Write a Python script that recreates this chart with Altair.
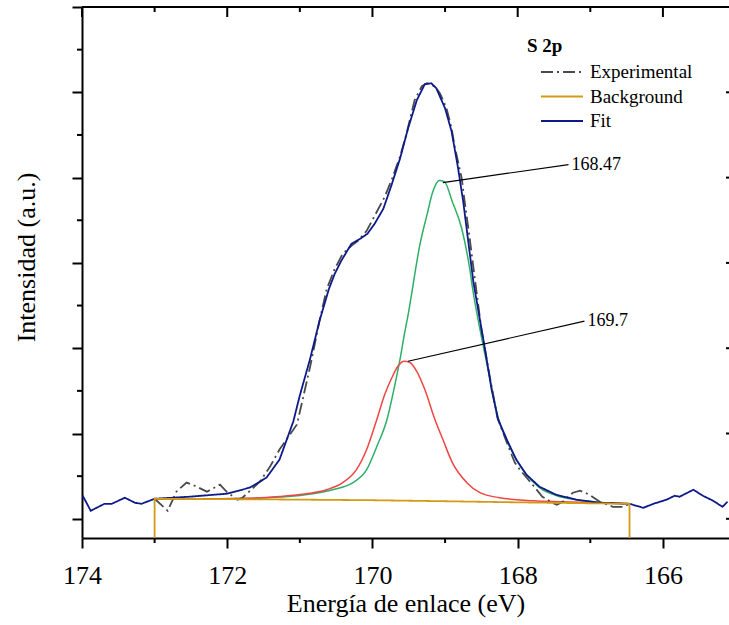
import altair as alt
import pandas as pd

# Plot-area size in pixels
W, H = 647, 531

# Binding energy (eV) and intensity (counts) of each series
fit_ev = [173.99, 173.88, 173.69, 173.59, 173.41, 173.27, 173.18, 173.00, 172.52, 172.01,
          171.69, 171.46, 171.28, 171.09, 171.00, 170.86, 170.73, 170.60, 170.52, 170.43,
          170.29, 170.17, 170.07, 169.97, 169.85, 169.74, 169.62, 169.51, 169.39, 169.28,
          169.19, 169.12, 169.00, 168.91, 168.82, 168.75, 168.68, 168.61, 168.45, 168.36,
          168.27, 168.15, 168.02, 167.88, 167.70, 167.47, 167.19, 166.87, 166.46, 166.27,
          166.13, 165.95, 165.84, 165.77, 165.58, 165.45, 165.31, 165.18, 165.11]
fit_counts = [1271, 1094, 1176, 1176, 1247, 1188, 1176, 1235, 1259, 1294,
              1365, 1482, 1694, 2141, 2447, 2871, 3318, 3694, 3871, 4024,
              4224, 4282, 4341, 4459, 4635, 4906, 5224, 5576, 5906, 6094,
              6106, 6047, 5812, 5541, 5106, 4718, 4247, 3776, 2988, 2518,
              2165, 1929, 1694, 1518, 1376, 1282, 1224, 1188, 1176, 1129,
              1176, 1224, 1270, 1259, 1341, 1270, 1212, 1141, 1200]

exp_ev = [173.00, 172.82, 172.70, 172.56, 172.45, 172.28, 172.10, 172.01, 171.86, 171.79,
          171.55, 171.41, 171.28, 171.04, 170.86, 170.73, 170.63, 170.52, 170.41, 170.29,
          170.20, 170.08, 169.94, 169.83, 169.73, 169.62, 169.53, 169.42, 169.32, 169.25,
          169.14, 169.07, 168.98, 168.91, 168.87, 168.77, 168.73, 168.66, 168.59, 168.50,
          168.39, 168.28, 168.15, 168.04, 167.97, 167.83, 167.66, 167.52, 167.46, 167.38,
          167.24, 167.14, 167.01, 166.87, 166.69, 166.55, 166.46]
exp_counts = [1235, 1094, 1318, 1424, 1388, 1318, 1400, 1318, 1224, 1247,
              1435, 1612, 1812, 2106, 2776, 3318, 3694, 3929, 4106, 4200,
              4259, 4376, 4600, 4776, 4988, 5247, 5518, 5906, 6071, 6106,
              6071, 5988, 5812, 5576, 5376, 4988, 4718, 4282, 3812, 3224,
              2694, 2188, 1894, 1659, 1576, 1435, 1259, 1188, 1165, 1200,
              1306, 1329, 1282, 1200, 1141, 1141, 1176]

bg_ev = [173.00, 173.00, 171.50, 170.00, 169.00, 168.00, 167.00, 166.46, 166.46]
bg_counts = [0, 1235, 1228, 1218, 1206, 1193, 1182, 1176, 0]

# Component at 168.47 eV (green)
comp1_ev = [173.00, 172.38, 171.73, 171.28, 170.82, 170.55, 170.27, 170.08, 169.94, 169.80,
            169.69, 169.62, 169.56, 169.50, 169.45, 169.35, 169.25, 169.17, 169.08, 169.01,
            168.90, 168.77, 168.66, 168.62, 168.52, 168.38, 168.27, 168.15, 168.01, 167.87,
            167.70, 167.46, 167.19, 166.87, 166.46]
comp1_counts = [1235, 1235, 1239, 1255, 1294, 1341, 1424, 1576, 1847, 2165,
                2576, 2871, 3165, 3435, 3694, 4200, 4560, 4830, 4965, 4953,
                4718, 4400, 3929, 3694, 3224, 2635, 2188, 1918, 1682, 1506,
                1365, 1271, 1224, 1194, 1176]

# Component at 169.7 eV (red)
comp2_ev = [173.00, 172.38, 171.73, 171.28, 170.91, 170.63, 170.41, 170.22, 170.08, 169.94,
            169.83, 169.73, 169.65, 169.56, 169.49, 169.39, 169.28, 169.14, 169.03, 168.90,
            168.70, 168.52, 168.25, 167.79, 167.42, 166.87, 166.46]
comp2_counts = [1235, 1235, 1241, 1262, 1294, 1341, 1424, 1576, 1812, 2165,
                2459, 2659, 2788, 2847, 2835, 2729, 2518, 2165, 1929, 1659,
                1424, 1306, 1247, 1212, 1200, 1188, 1176]

# Peak annotations: leader line from the component maximum to the label
ann_text = ["168.47", "169.7"]
ann_from_ev = [169.03, 169.51]
ann_from_counts = [4941, 2847]
ann_to_ev = [167.30, 167.08]
ann_to_counts = [5153, 3318]

legend_title = "S 2p"
series_names = ["Experimental", "Background", "Fit"]
series_colors = ["#4a4a4a", "#d39a14", "#0e1a8a"]
series_dash = [[12, 4, 2, 4], [1, 0], [1, 0]]

x_major = [174, 172, 170, 168, 166]
x_minor = [173, 171, 169, 167]
y_major = [1000, 2000, 3000, 4000, 5000, 6000, 7000]
y_minor = [1500, 2500, 3500, 4500, 5500, 6500]


def frame(ev, counts, name):
    return pd.DataFrame({"ev": ev, "counts": counts, "series": name,
                         "i": list(range(len(ev)))})


xs = alt.Scale(domain=[165.09, 174], reverse=True, nice=False, zero=False)
ys = alt.Scale(domain=[775, 7000], nice=False, zero=False)

x_axis = alt.Axis(values=x_major, format="d", title="Energía de enlace (eV)",
                  labelFont="Liberation Sans Narrow", labelFontSize=26, labelColor="black",
                  labelPadding=14, labelFlush=False, tickSize=10, tickWidth=2,
                  tickColor="black", domainColor="black", domainWidth=2, grid=False,
                  titleFont="Liberation Serif", titleFontSize=26, titleFontWeight="normal",
                  titleColor="black", titleBaseline="alphabetic", titleY=73.5)
y_axis = alt.Axis(values=y_major, labels=False, title="Intensidad (a.u.)",
                  tickSize=10, tickWidth=2, tickColor="black", domainColor="black",
                  domainWidth=2, grid=False, titleFont="Liberation Serif", titleFontSize=26,
                  titleFontWeight="normal", titleColor="black", titleAngle=270,
                  titleAlign="center", titleBaseline="alphabetic", titleX=-48, titleY=250)

X = lambda f: alt.X(f, scale=xs, axis=x_axis)
Y = lambda f: alt.Y(f, scale=ys, axis=y_axis)

series_color = alt.Color("series:N",
                         scale=alt.Scale(domain=series_names, range=series_colors),
                         legend=None)
series_stroke_dash = alt.StrokeDash("series:N",
                                    scale=alt.Scale(domain=series_names, range=series_dash),
                                    legend=None)


def comp_layer(df, color):
    return alt.Chart(df).mark_line(color=color, strokeWidth=1.5, clip=True,
                                   interpolate="monotone").encode(
        x=X("ev:Q"), y=Y("counts:Q"), order="i:Q")


def series_layer(df):
    return alt.Chart(df).mark_line(strokeWidth=1.8, clip=True).encode(
        x=X("ev:Q"), y=Y("counts:Q"),
        color=series_color, strokeDash=series_stroke_dash, order="i:Q")


green = comp_layer(frame(comp1_ev, comp1_counts, "c1"), "#2fae68")
red = comp_layer(frame(comp2_ev, comp2_counts, "c2"), "#f04545")
exp_line = series_layer(frame(exp_ev, exp_counts, "Experimental"))
fit_line = series_layer(frame(fit_ev, fit_counts, "Fit"))
bg_line = series_layer(frame(bg_ev, bg_counts, "Background"))

ann_df = pd.DataFrame({"text": ann_text, "x1": ann_from_ev, "y1": ann_from_counts,
                       "x2": ann_to_ev, "y2": ann_to_counts})
ann_lines = alt.Chart(ann_df).mark_rule(color="black", strokeWidth=1.2).encode(
    x=X("x1:Q"), y=Y("y1:Q"), x2="x2:Q", y2="y2:Q")
ann_labels = alt.Chart(ann_df).mark_text(
    align="left", baseline="middle", dx=3, font="Liberation Serif", fontSize=18,
    color="black").encode(x=X("x2:Q"), y=Y("y2:Q"), text="text:N")

# Legend block in the upper right of the plot
LEG_X, LEG_Y0, LEG_DY = 459, 65, 24.5
leg_df = pd.DataFrame({"series": series_names,
                       "row": list(range(len(series_names)))})
leg_title = alt.Chart(pd.DataFrame({"t": [legend_title]})).mark_text(
    align="left", baseline="middle", font="Liberation Serif", fontSize=19,
    fontWeight="bold", color="black").encode(
    x=alt.value(LEG_X - 14), y=alt.value(LEG_Y0 - 26), text="t:N")
leg_layers = []
for k, name in enumerate(series_names):
    yk = LEG_Y0 + k * LEG_DY
    leg_layers.append(
        alt.Chart(leg_df[leg_df.row == k]).mark_rule(strokeWidth=1.8).encode(
            x=alt.value(LEG_X), x2=alt.value(LEG_X + 42), y=alt.value(yk),
            color=series_color, strokeDash=series_stroke_dash))
    leg_layers.append(
        alt.Chart(leg_df[leg_df.row == k]).mark_text(
            align="left", baseline="middle", font="Liberation Serif", fontSize=19,
            color="black").encode(
            x=alt.value(LEG_X + 49), y=alt.value(yk), text="series:N"))

# Minor ticks and mirrored top/right ticks of the frame
xmin_df = pd.DataFrame({"ev": x_minor})
ymin_df = pd.DataFrame({"counts": y_minor})
ymaj_df = pd.DataFrame({"counts": y_major})

bottom_minor = alt.Chart(xmin_df).mark_rule(color="black", strokeWidth=2).encode(
    x=X("ev:Q"), y=alt.value(H), y2=alt.value(H + 5))
top_ticks_major = alt.Chart(pd.DataFrame({"ev": x_major})).mark_rule(
    color="black", strokeWidth=2).encode(x=X("ev:Q"), y=alt.value(0), y2=alt.value(10))
top_ticks_minor = alt.Chart(xmin_df).mark_rule(color="black", strokeWidth=2).encode(
    x=X("ev:Q"), y=alt.value(0), y2=alt.value(5))
top_line = alt.Chart(pd.DataFrame({"k": [0]})).mark_rule(color="black", strokeWidth=2).encode(
    x=alt.value(0), x2=alt.value(W), y=alt.value(0))
left_minor = alt.Chart(ymin_df).mark_rule(color="black", strokeWidth=2).encode(
    y=Y("counts:Q"), x=alt.value(-5), x2=alt.value(0))
right_ticks = alt.Chart(ymaj_df).mark_rule(color="black", strokeWidth=2).encode(
    y=Y("counts:Q"), x=alt.value(W - 3), x2=alt.value(W))

chart = alt.layer(
    green, red, exp_line, fit_line, bg_line, ann_lines, ann_labels,
    bottom_minor, top_ticks_major, top_ticks_minor, top_line, left_minor, right_ticks,
    leg_title, *leg_layers
).properties(
    width=W, height=H,
    autosize=alt.AutoSizeParams(type="none"),
    padding={"left": 82, "top": 7, "right": 0, "bottom": 87},
    background="white",
).configure_view(strokeWidth=0)

chart.save("out.html", embed_options={"renderer": "svg", "actions": False})
